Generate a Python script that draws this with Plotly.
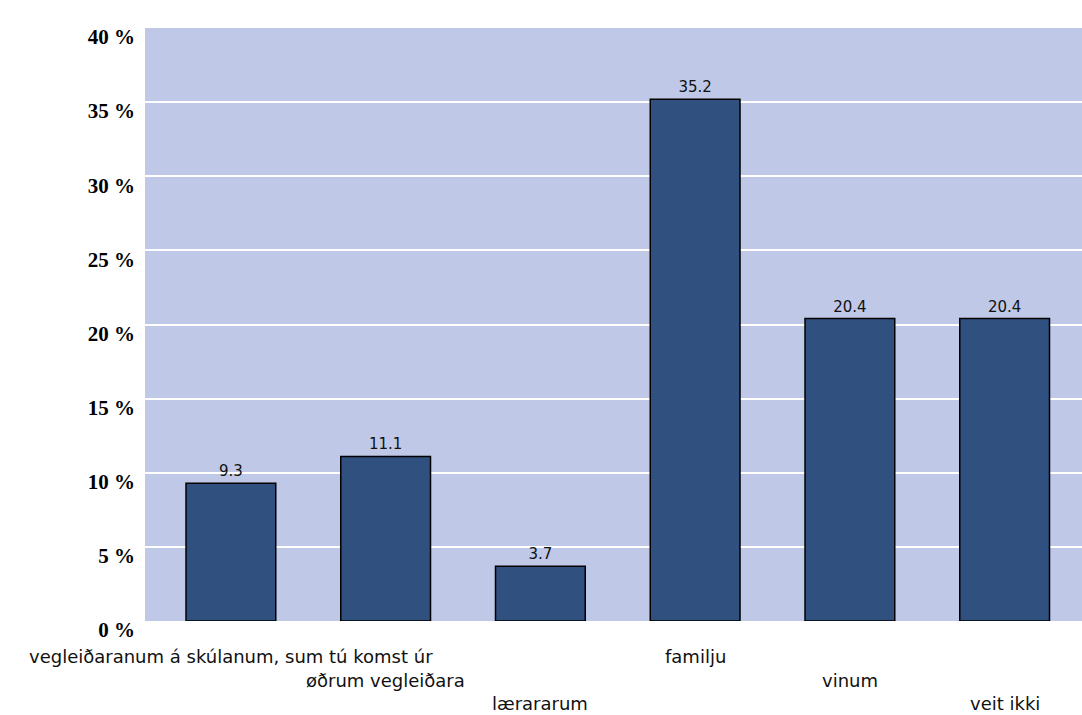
import plotly.graph_objects as go

categories = [
    "vegleiðaranum á skúlanum, sum tú komst úr",
    "øðrum vegleiðara",
    "lærararum",
    "familju",
    "vinum",
    "veit ikki",
]
values = [9.3, 11.1, 3.7, 35.2, 20.4, 20.4]
tick_vals = [0, 5, 10, 15, 20, 25, 30, 35, 40]
tick_text = [f"{v} %" for v in tick_vals]

label_font = dict(family="DejaVu Sans", size=18, color="#111111")

fig = go.Figure()
fig.add_trace(go.Bar(
    x=list(range(len(categories))),
    y=values,
    width=0.58,
    marker=dict(color="#30507F", line=dict(color="#000000", width=1.5)),
    text=[f"{v:.1f}" for v in values],
    textposition="outside",
    textfont=dict(family="DejaVu Sans", size=15, color="#111111"),
    cliponaxis=False,
    hoverinfo="skip",
))

row_shift = [-35, -59, -82]
annotations = []
for i, c in enumerate(categories):
    annotations.append(dict(
        x=i, y=0, xref="x", yref="paper", text=c, showarrow=False,
        xanchor="center", yanchor="middle", yshift=row_shift[i % 3],
        font=label_font,
    ))

fig.update_layout(
    width=1082, height=715,
    margin=dict(l=145, r=0, t=28, b=94),
    paper_bgcolor="#FFFFFF",
    plot_bgcolor="#BFC8E6",
    showlegend=False,
    annotations=annotations,
    xaxis=dict(range=[-0.555, 5.5], showticklabels=False, showgrid=False,
               zeroline=False, showline=False, ticks=""),
    yaxis=dict(range=[0, 40], tickvals=tick_vals, ticktext=tick_text,
               showgrid=True, gridcolor="#FFFFFF", gridwidth=2,
               zeroline=False, showline=False, ticks="",
               ticklabelshift=9, ticklabelstandoff=9,
               tickfont=dict(family="Liberation Serif", size=21, color="#000000", weight="bold")),
)

fig.write_html(
    "out.html",
    config={"displayModeBar": False},
    post_script="document.body.style.margin='0';document.body.style.overflow='hidden';",
)
